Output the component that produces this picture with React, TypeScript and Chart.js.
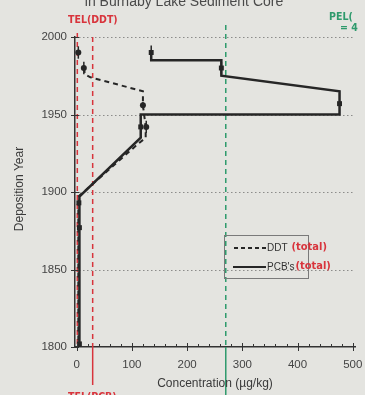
import { useEffect, useRef } from "react";
import { Chart, registerables } from "chart.js";

Chart.register(...registerables);

// ---------- data ----------
const yearTicks = [1800, 1850, 1900, 1950, 2000];
const yearGrid = [1850, 1900, 1950, 2000];
const concTicks = [0, 100, 200, 300, 400, 500];
const concMinorTicks = [20, 40, 60, 80, 120, 140, 160, 180, 220, 240, 260, 280, 320, 340, 360, 380, 420, 440, 460, 480];

// PCB (total) profile path: [concentration, year]
const pcbPathConc = [135, 135, 262, 262, 476, 476, 116, 116, 5, 5];
const pcbPathYear = [1991, 1985, 1985, 1975, 1965, 1950, 1950, 1935, 1897, 1800];
// PCB sample points
const pcbSampleConc = [135, 262, 476, 116, 4, 5, 5];
const pcbSampleYear = [1990, 1980, 1957, 1942, 1893, 1877, 1802];
const pcbSampleErr = [4.5, 4, 0, 4, 2, 0, 0];

// DDT (total) profile path
const ddtPathConc = [13, 15, 25, 120, 120, 125, 125, 111, 3, 3];
const ddtPathYear = [1980, 1976, 1974, 1965, 1956, 1942, 1935, 1931, 1897, 1800];
// DDT sample points
const ddtSampleConc = [3, 13, 120, 126];
const ddtSampleYear = [1990, 1980, 1956, 1942];
const ddtSampleErr = [4, 4, 2, 4];

// guideline values (µg/kg)
const telDDT = 1.2;
const telPCB = 29;
const pelPCB = 270;

const seriesLabels = ["DDT", "PCB's"];
const titleText = "in Burnaby Lake Sediment Core";
const xTitle = "Concentration (µg/kg)";
const yTitle = "Deposition Year";

const toPts = (xs: number[], ys: number[]) => xs.map((x, i) => ({ x, y: ys[i] }));

const BG = "#e4e4e0";
const INK = "#262626";
const RED = "#d8343c";
const GREEN = "#2e9a6c";
const FONT = '"Liberation Sans", Arial, sans-serif';
const HAND = '"DejaVu Sans Condensed", "DejaVu Sans", sans-serif';

const decor = {
  id: "decor",
  beforeDraw(chart: any) {
    const { ctx } = chart;
    ctx.save();
    ctx.fillStyle = BG;
    ctx.fillRect(0, 0, chart.width, chart.height);
    ctx.restore();
  },
  beforeDatasetsDraw(chart: any) {
    const { ctx, chartArea, scales } = chart;
    const xs = scales.x;
    const ys = scales.y;
    ctx.save();
    // dotted horizontal gridlines
    ctx.strokeStyle = "#8c8c8a";
    ctx.lineWidth = 1;
    ctx.setLineDash([1.5, 2.5]);
    yearGrid.forEach((v) => {
      const y = Math.round(ys.getPixelForValue(v)) + 0.5;
      ctx.beginPath();
      ctx.moveTo(chartArea.left, y);
      ctx.lineTo(chartArea.right, y);
      ctx.stroke();
    });
    // guideline lines
    const vline = (val: number, color: string, top: number, dashedBottom: number, solidBottom: number) => {
      const x = xs.getPixelForValue(val);
      ctx.strokeStyle = color;
      ctx.lineWidth = 1.5;
      ctx.setLineDash([5, 4]);
      ctx.beginPath();
      ctx.moveTo(x, top);
      ctx.lineTo(x, dashedBottom);
      ctx.stroke();
      if (solidBottom > dashedBottom) {
        ctx.setLineDash([]);
        ctx.beginPath();
        ctx.moveTo(x, dashedBottom);
        ctx.lineTo(x, solidBottom);
        ctx.stroke();
      }
    };
    vline(telDDT, RED, chartArea.top - 4, chartArea.bottom, chartArea.bottom);
    vline(telPCB, RED, chartArea.top, chartArea.bottom, chartArea.bottom + 38);
    vline(pelPCB, GREEN, chartArea.top - 12, chartArea.bottom, chart.height);
    ctx.restore();
  },
  afterDatasetsDraw(chart: any) {
    const { ctx, chartArea, scales } = chart;
    const xs = scales.x;
    const ys = scales.y;
    ctx.save();
    // error bars
    ctx.strokeStyle = INK;
    ctx.lineWidth = 1.5;
    ctx.setLineDash([]);
    const err = (cs: number[], yrs: number[], es: number[]) => {
      cs.forEach((c, i) => {
        if (!es[i]) return;
        const x = xs.getPixelForValue(c);
        ctx.beginPath();
        ctx.moveTo(x, ys.getPixelForValue(yrs[i] + es[i]));
        ctx.lineTo(x, ys.getPixelForValue(yrs[i] - es[i]));
        ctx.stroke();
      });
    };
    err(pcbSampleConc, pcbSampleYear, pcbSampleErr);
    err(ddtSampleConc, ddtSampleYear, ddtSampleErr);

    // axis tick marks
    ctx.strokeStyle = "#333";
    ctx.lineWidth = 1;
    const yb = chartArea.bottom;
    concTicks.forEach((v) => {
      const x = Math.round(xs.getPixelForValue(v)) + 0.5;
      ctx.beginPath();
      ctx.moveTo(x, yb - 4);
      ctx.lineTo(x, yb + 4);
      ctx.stroke();
    });
    concMinorTicks.forEach((v) => {
      const x = Math.round(xs.getPixelForValue(v)) + 0.5;
      ctx.beginPath();
      ctx.moveTo(x, yb - 3);
      ctx.lineTo(x, yb);
      ctx.stroke();
    });
    const xl = chartArea.left;
    yearTicks.forEach((v) => {
      const y = Math.round(ys.getPixelForValue(v)) + 0.5;
      ctx.beginPath();
      ctx.moveTo(xl - 4, y);
      ctx.lineTo(xl + 4, y);
      ctx.stroke();
    });

    // titles
    ctx.fillStyle = "#4a4a4a";
    ctx.font = `14px ${FONT}`;
    ctx.textAlign = "center";
    ctx.textBaseline = "alphabetic";
    ctx.fillText(titleText, 184, 6);
    ctx.font = `12px ${FONT}`;
    ctx.fillStyle = "#3a3a3a";
    ctx.textBaseline = "middle";
    ctx.fillText(xTitle, (chartArea.left + chartArea.right) / 2, 384);
    ctx.save();
    ctx.translate(20, 189);
    ctx.rotate(-Math.PI / 2);
    ctx.fillText(yTitle, 0, 0);
    ctx.restore();

    // handwritten notes
    ctx.font = `bold 10.5px ${HAND}`;
    ctx.textAlign = "left";
    ctx.textBaseline = "middle";
    ctx.fillStyle = RED;
    ctx.fillText("TEL(DDT)", 68, 20);
    ctx.fillText("TEL(PCB)", 68, 397);
    ctx.fillStyle = GREEN;
    ctx.fillText("PEL(", 329, 17);
    ctx.fillText("= 4", 340, 28);

    // legend
    const lx = 224, ly = 235, lw = 84, lh = 43;
    ctx.strokeStyle = "#7a7a7a";
    ctx.lineWidth = 1;
    ctx.strokeRect(lx + 0.5, ly + 0.5, lw, lh);
    ctx.strokeStyle = INK;
    ctx.lineWidth = 1.8;
    ctx.setLineDash([4, 3]);
    ctx.beginPath();
    ctx.moveTo(234, 248);
    ctx.lineTo(266, 248);
    ctx.stroke();
    ctx.setLineDash([]);
    ctx.beginPath();
    ctx.moveTo(233, 267);
    ctx.lineTo(266, 267);
    ctx.stroke();
    ctx.font = `10px ${FONT}`;
    ctx.fillStyle = "#333";
    ctx.fillText(seriesLabels[0], 267, 248);
    const w0 = ctx.measureText(seriesLabels[0]).width;
    ctx.fillText(seriesLabels[1], 267, 267);
    const w1 = ctx.measureText(seriesLabels[1]).width;
    ctx.font = `bold 11px ${HAND}`;
    ctx.fillStyle = RED;
    ctx.fillText("(total)", 267 + w0 + 4, 247);
    ctx.fillText("(total)", 267 + w1 + 1, 266);
    ctx.restore();
  },
};

export default function App() {
  const ref = useRef<HTMLCanvasElement | null>(null);
  useEffect(() => {
    document.body.style.margin = "0";
    document.body.style.background = BG;
    const chart = new Chart(ref.current as HTMLCanvasElement, {
      type: "scatter",
      data: {
        datasets: [
          {
            label: seriesLabels[0],
            data: toPts(ddtPathConc, ddtPathYear),
            showLine: true,
            borderColor: INK,
            borderWidth: 2,
            borderDash: [5, 4],
            pointRadius: 0,
            fill: false,
          },
          {
            label: seriesLabels[1],
            data: toPts(pcbPathConc, pcbPathYear),
            showLine: true,
            borderColor: INK,
            borderWidth: 2.5,
            pointRadius: 0,
            fill: false,
          },
          {
            label: "DDT samples",
            data: toPts(ddtSampleConc, ddtSampleYear),
            showLine: false,
            pointStyle: "circle",
            pointRadius: 3,
            backgroundColor: INK,
            borderColor: INK,
            borderWidth: 0,
          },
          {
            label: "PCB samples",
            data: toPts(pcbSampleConc, pcbSampleYear),
            showLine: false,
            pointStyle: "rect",
            pointRadius: 3.5,
            backgroundColor: INK,
            borderColor: INK,
            borderWidth: 0,
          },
        ],
      },
      options: {
        animation: false,
        responsive: false,
        maintainAspectRatio: false,
        events: [],
        layout: { padding: { top: 37, right: 10, left: 0, bottom: 0 } },
        plugins: {
          legend: { display: false },
          tooltip: { enabled: false },
          title: { display: false },
        },
        scales: {
          x: {
            type: "linear",
            min: -3,
            max: 504,
            afterBuildTicks: (s: any) => {
              s.ticks = concTicks.map((v) => ({ value: v }));
            },
            afterFit: (s: any) => {
              s.height = 48;
              s.paddingLeft = 0;
              s.paddingRight = 0;
            },
            grid: { display: false, drawTicks: false },
            border: { display: true, color: "#333", width: 1.5 },
            ticks: {
              padding: 11,
              color: "#444",
              font: { family: FONT, size: 11.5 },
              maxRotation: 0,
              callback: (v: any) => String(v),
            },
          },
          y: {
            type: "linear",
            min: 1800,
            max: 2000,
            afterBuildTicks: (s: any) => {
              s.ticks = yearTicks.map((v) => ({ value: v }));
            },
            afterFit: (s: any) => {
              s.width = 75;
              s.paddingTop = 0;
              s.paddingBottom = 0;
            },
            grid: { display: false, drawTicks: false },
            border: { display: true, color: "#333", width: 1.5 },
            ticks: {
              padding: 8,
              color: "#444",
              font: { family: FONT, size: 11.5 },
              callback: (v: any) => String(v),
            },
          },
        },
      },
      plugins: [decor],
    });
    return () => chart.destroy();
  }, []);
  return (
    <div style={{ position: "absolute", left: 0, top: 0, width: 365, height: 395 }}>
      <canvas ref={ref} width={365} height={395} style={{ width: 365, height: 395 }} />
    </div>
  );
}
